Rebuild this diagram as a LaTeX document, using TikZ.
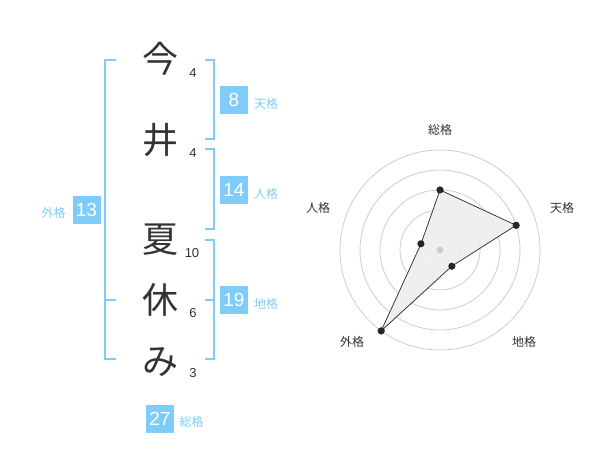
\documentclass[tikz,border=0pt]{standalone}
\usepackage{fontspec}
\setmainfont{Liberation Sans}
\newfontfamily\jp{Noto Sans CJK JP}
\definecolor{blu}{HTML}{80CCF8}
\definecolor{ink}{HTML}{333333}
\definecolor{ringc}{HTML}{CCCCCC}
\begin{document}
\begin{tikzpicture}[x=1pt,y=-1pt,
  kanji/.style={font=\jp\fontsize{36}{36}\selectfont, text=ink, inner sep=0},
  strk/.style={font=\fontsize{13}{13}\selectfont, text=ink, inner sep=0},
  box/.style={fill=blu, text=white, font=\fontsize{19}{19}\selectfont, minimum width=28, minimum height=28, inner sep=0},
  lbl/.style={text=blu, font=\jp\fontsize{12}{12}\selectfont, inner sep=0, anchor=west},
  brk/.style={draw=blu, line width=2},
  ring/.style={draw=ringc, line width=0.8},
  axl/.style={text=ink, font=\jp\fontsize{12}{12}\selectfont, inner sep=0},
  dot/.style={circle, fill=black!85, inner sep=0, minimum size=7},
  poly/.style={draw=black!85, line width=0.7, fill=black!7, fill opacity=0.9}
]
\useasboundingbox (0,0) rectangle (600,470);
% characters
\node[kanji] (k1) at (160,59) {今};
\node[kanji] (k2) at (160,140) {井};
\node[kanji] (k3) at (160,240) {夏};
\node[kanji] (k4) at (160,300) {休};
\node[kanji] (k5) at (160,362) {み};
\node[strk] (s1) at (193,73) {4};
\node[strk] (s2) at (193,153) {4};
\node[strk] (s3) at (192,253) {10};
\node[strk] (s4) at (193,313) {6};
\node[strk] (s5) at (193,373) {3};
% brackets
\draw[brk] (116,60) -- (105,60) -- (105,359) -- (116,359);
\draw[brk] (105,300) -- (116,300);
\draw[brk] (205,60) -- (214,60) -- (214,139) -- (205,139);
\draw[brk] (205,149) -- (214,149) -- (214,229) -- (205,229);
\draw[brk] (205,240) -- (214,240) -- (214,359) -- (205,359);
\draw[brk] (205,300) -- (214,300);
% boxes
\node[box] (b1) at (234,100) {8};
\node[lbl] (l1) at (254,104) {天格};
\node[box] (b2) at (234,190) {14};
\node[lbl] (l2) at (254,194) {人格};
\node[box] (b3) at (234,300) {19};
\node[lbl] (l3) at (254,304) {地格};
\node[box] (b4) at (86.5,210) {13};
\node[lbl] (l4) at (41.5,213) {外格};
\node[box] (b5) at (160,419) {27};
\node[lbl] (l5) at (179.5,422) {総格};
% radar
\coordinate (C) at (440,250);
\foreach \r in {20,40,60,80,100} \draw[ring] (C) circle[radius=\r];
\node[axl] (a1) at (440,130) {総格};
\node[axl] (a2) at (562,208) {天格};
\node[axl] (a3) at (524,342) {地格};
\node[axl] (a4) at (352,342) {外格};
\node[axl] (a5) at (318,208) {人格};
\node[dot] (d1) at (440,190) {};
\node[dot] (d2) at (516.1,225.3) {};
\node[dot] (d3) at (451.8,266.2) {};
\node[dot] (d4) at (381.2,330.9) {};
\node[dot] (d5) at (421.0,243.8) {};
\draw[poly] (d1.center) -- (d2.center) -- (d3.center) -- (d4.center) -- (d5.center) -- cycle;
\node[circle, fill=ringc, inner sep=0, minimum size=7] (cd) at (C) {};
\foreach \d in {d1,d2,d3,d4,d5} \node[dot] at (\d) {};
\end{tikzpicture}
\end{document}
